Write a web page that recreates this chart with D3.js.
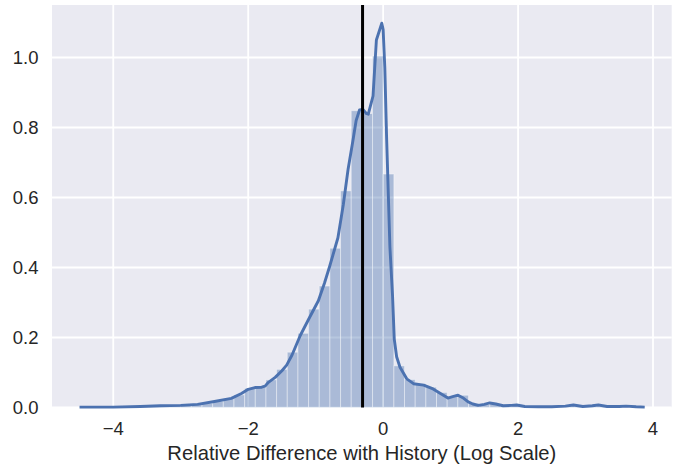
<!DOCTYPE html>
<html>
<head>
<meta charset="utf-8">
<script src="https://cdn.jsdelivr.net/npm/d3@7"></script>
<style>
  html, body { margin: 0; padding: 0; background: #ffffff; }
  svg { display: block; }
  text { font-family: "Liberation Sans", Arial, sans-serif; fill: #262626; }
</style>
</head>
<body>
<svg id="chart" width="679" height="468"></svg>
<script>
// ---- data ----
const binStart = -4.265;
const binWidth = 0.158;
const binHeights = [
  0.001, 0.001, 0.002, 0.002, 0.003, 0.004, 0.005, 0.006, 0.006, 0.008,
  0.012, 0.018, 0.025, 0.036, 0.055, 0.058, 0.079, 0.109, 0.158, 0.212,
  0.281, 0.347, 0.455, 0.619, 0.848, 0.840, 1.004, 0.667, 0.119, 0.080,
  0.068, 0.058, 0.043, 0.030, 0.035, 0.012, 0.008, 0.010, 0.005, 0.004,
  0.002, 0.002, 0.003, 0.002, 0.004, 0.003, 0.002, 0.002, 0.002, 0.001
];
const kdeX = [-4.5,-4.0,-3.6,-3.3,-3.0,-2.75,-2.5,-2.25,-2.1,-2.0,-1.9,-1.8,-1.75,-1.7,-1.6,-1.5,-1.43,-1.35,-1.23,-1.11,-0.96,-0.87,-0.79,-0.67,-0.59,-0.52,-0.45,-0.40,-0.35,-0.30,-0.25,-0.22,-0.15,-0.10,-0.02,0.0,0.025,0.05,0.075,0.10,0.14,0.165,0.2,0.25,0.35,0.45,0.6,0.74,0.85,0.96,1.03,1.11,1.18,1.26,1.33,1.41,1.5,1.58,1.67,1.78,1.9,1.98,2.1,2.3,2.5,2.7,2.82,2.96,3.1,3.19,3.32,3.5,3.6,3.75,3.877];
const kdeY = [0.001,0.001,0.003,0.005,0.006,0.009,0.017,0.026,0.04,0.052,0.057,0.058,0.061,0.072,0.086,0.105,0.121,0.15,0.205,0.25,0.305,0.355,0.405,0.485,0.58,0.68,0.76,0.82,0.85,0.852,0.84,0.838,0.89,1.05,1.098,1.08,0.97,0.78,0.62,0.46,0.317,0.195,0.145,0.115,0.082,0.068,0.064,0.053,0.04,0.027,0.031,0.035,0.028,0.016,0.01,0.006,0.009,0.013,0.01,0.005,0.006,0.007,0.003,0.002,0.002,0.004,0.007,0.003,0.005,0.007,0.003,0.003,0.004,0.002,0.001];
const refLineX = -0.305;
const xTicks = [-4, -2, 0, 2, 4];
const yTicks = [0.0, 0.2, 0.4, 0.6, 0.8, 1.0];
const xLabel = "Relative Difference with History (Log Scale)";

// ---- layout ----
const plot = { left: 52, right: 671.7, top: 5, bottom: 407.5 };
const svg = d3.select("#chart");

const x = d3.scaleLinear().domain([-4.908, 4.277]).range([plot.left, plot.right]);
const y = d3.scaleLinear().domain([0, 1.15]).range([plot.bottom, plot.top]);

// background
svg.append("rect")
  .attr("x", plot.left).attr("y", plot.top)
  .attr("width", plot.right - plot.left).attr("height", plot.bottom - plot.top)
  .attr("fill", "#EAEAF2");

// grid
const g = svg.append("g");
g.selectAll("line.gx").data(xTicks).enter().append("line")
  .attr("x1", d => x(d)).attr("x2", d => x(d))
  .attr("y1", plot.top).attr("y2", plot.bottom)
  .attr("stroke", "#ffffff").attr("stroke-width", 1.8);
g.selectAll("line.gy").data(yTicks).enter().append("line")
  .attr("y1", d => y(d)).attr("y2", d => y(d))
  .attr("x1", plot.left).attr("x2", plot.right)
  .attr("stroke", "#ffffff").attr("stroke-width", 1.8);

// histogram bars
const bins = binHeights.map((h, i) => ({ x0: binStart + i * binWidth, x1: binStart + (i + 1) * binWidth, h }));
svg.append("g").selectAll("rect").data(bins).enter().append("rect")
  .attr("x", d => x(d.x0))
  .attr("width", d => x(d.x1) - x(d.x0))
  .attr("y", d => y(d.h))
  .attr("height", d => y(0) - y(d.h))
  .attr("fill", "#4C72B0").attr("fill-opacity", 0.4)
  .attr("stroke", "#ffffff").attr("stroke-opacity", 0.4).attr("stroke-width", 1);

// KDE line
const kde = kdeX.map((v, i) => [v, kdeY[i]]);
svg.append("path")
  .datum(kde)
  .attr("d", d3.line().x(d => x(d[0])).y(d => y(d[1])).curve(d3.curveLinear))
  .attr("fill", "none").attr("stroke", "#4C72B0").attr("stroke-width", 2.9)
  .attr("stroke-linejoin", "round").attr("stroke-linecap", "butt");

// reference line
svg.append("line")
  .attr("x1", x(refLineX)).attr("x2", x(refLineX))
  .attr("y1", plot.top).attr("y2", plot.bottom)
  .attr("stroke", "#000000").attr("stroke-width", 3);

// tick labels
const fmtY = d3.format(".1f");
svg.append("g").selectAll("text").data(yTicks).enter().append("text")
  .attr("x", 38.5).attr("y", d => y(d))
  .attr("dy", "0.36em")
  .attr("text-anchor", "end")
  .attr("font-size", 18.5)
  .text(d => fmtY(d));
svg.append("g").selectAll("text").data(xTicks).enter().append("text")
  .attr("x", d => x(d)).attr("y", 434.5)
  .attr("text-anchor", "middle")
  .attr("font-size", 18.5)
  .text(d => d < 0 ? "\u2212" + Math.abs(d) : String(d));

svg.append("text")
  .attr("x", (plot.left + plot.right) / 2).attr("y", 460)
  .attr("text-anchor", "middle")
  .attr("font-size", 20.2)
  .text(xLabel);
</script>
</body>
</html>
